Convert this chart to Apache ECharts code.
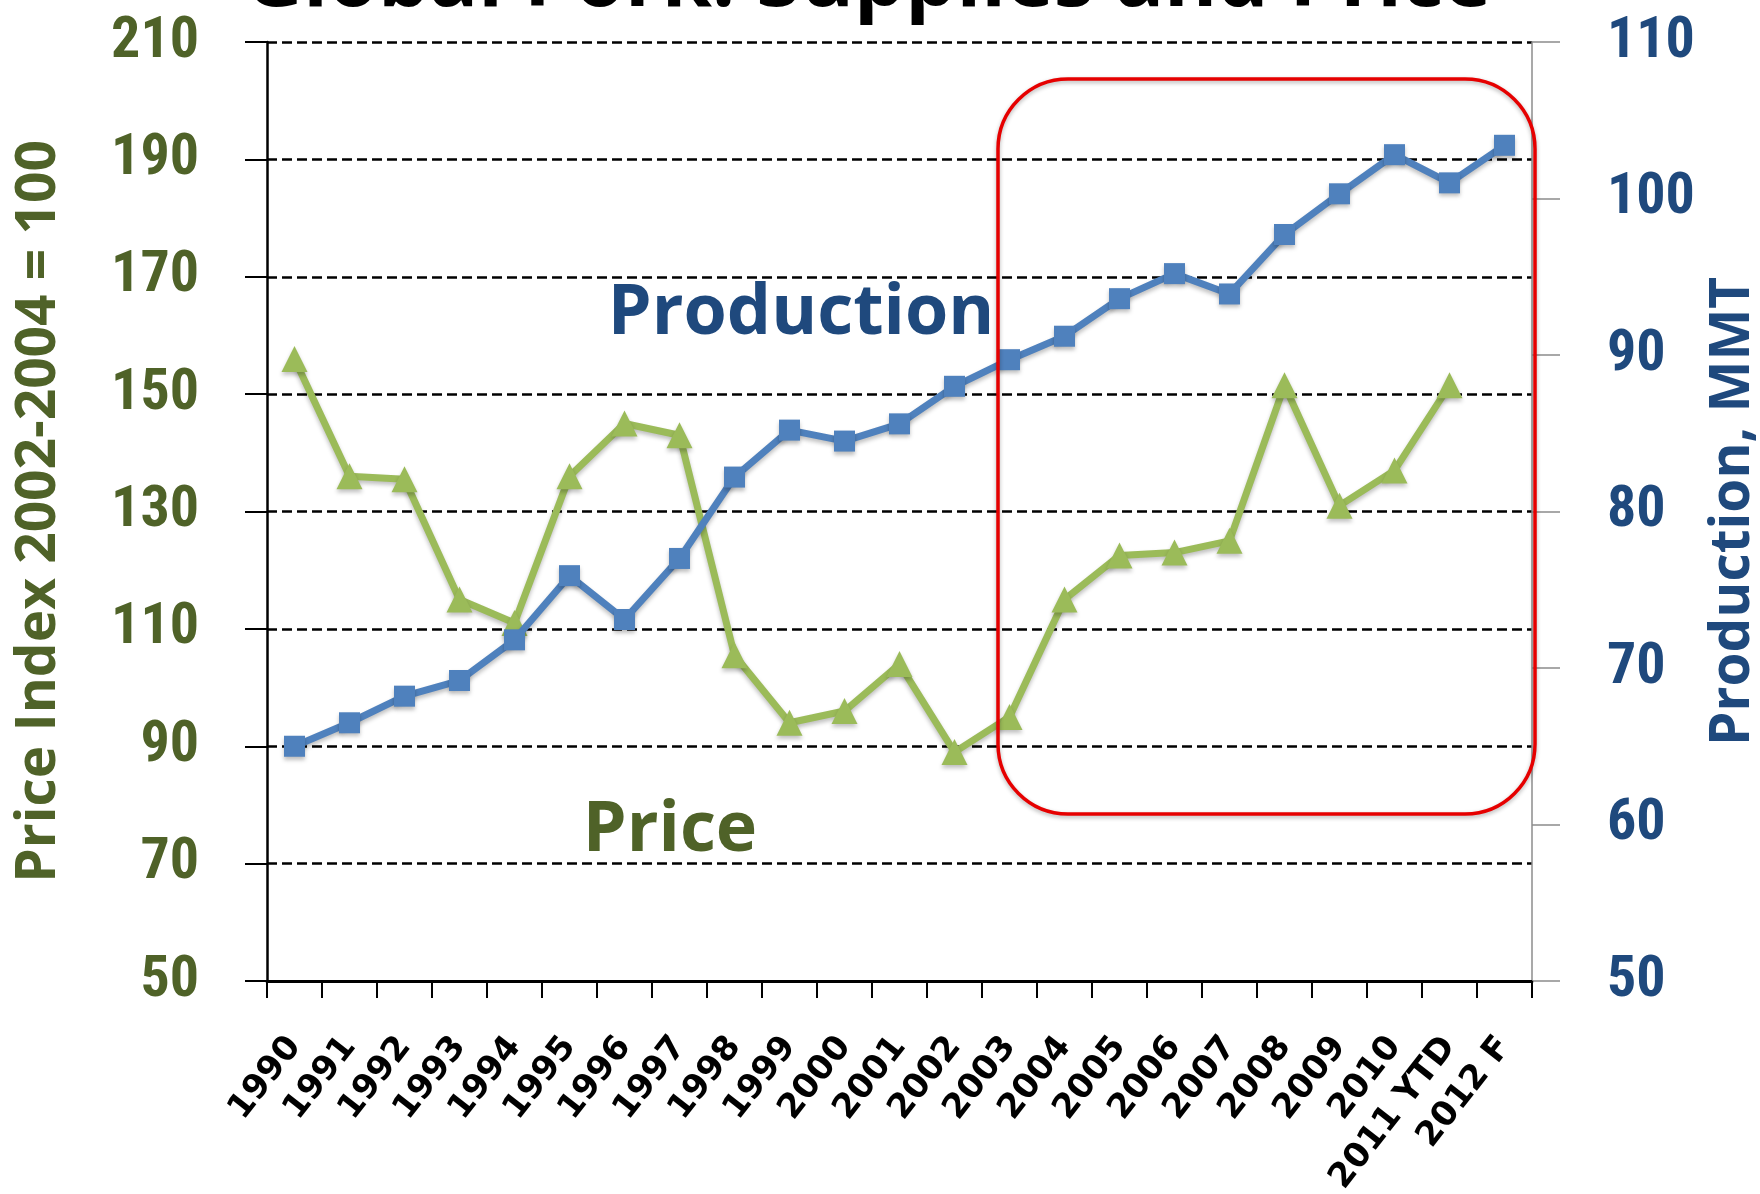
<!DOCTYPE html>
<html>
<head>
<meta charset="utf-8">
<script src="https://cdn.jsdelivr.net/npm/echarts@6/dist/echarts.min.js"></script>
<style>
html,body{margin:0;padding:0;background:#fff;overflow:hidden;}
#chart{width:1760px;height:1194px;}
</style>
</head>
<body>
<div id="chart"></div>
<script>
const categories = ['1990','1991','1992','1993','1994','1995','1996','1997','1998','1999','2000','2001','2002','2003','2004','2005','2006','2007','2008','2009','2010','2011 YTD','2012 F'];
const priceIndex = [156,136,135.5,115,111,136,145,143,105.5,94,96,104,89,95,115,122.5,123,125,151.5,131,137,151.5,null];
const production = [65,66.5,68.2,69.2,71.8,75.9,73.1,77,82.2,85.2,84.5,85.6,88,89.7,91.2,93.6,95.2,93.9,97.7,100.3,102.8,101,103.4];
const priceAxis = {min:50, max:210, step:20};
const prodAxis = {min:50, max:110, step:10};
const titleText = 'Global Pork: Supplies and Price';

const GREEN_DARK = '#4F6228';
const BLUE_DARK = '#1F497D';
const TICK_FONT = '"Roboto Condensed", "DejaVu Sans Condensed", sans-serif';
const chart = echarts.init(document.getElementById('chart'));
chart.setOption({
  backgroundColor:'#fff',
  animation:false,
  grid:{left:267, right:228, top:42, bottom:213, containLabel:false, outerBoundsMode:'none'},
  xAxis:{
    type:'category', data:categories, boundaryGap:true,
    axisLine:{lineStyle:{color:'#000', width:3}},
    axisTick:{show:true, interval:0, length:17, lineStyle:{color:'#000', width:2}},
    axisLabel:{interval:0, rotate:52, margin:60, color:'#000', fontFamily:'DejaVu Sans', fontWeight:'bold', fontSize:34}
  },
  yAxis:[{
    type:'value', min:priceAxis.min, max:priceAxis.max, interval:priceAxis.step,
    name:'Price Index 2002-2004 = 100', nameLocation:'middle', nameGap:200, nameRotate:90,
    nameTextStyle:{color:GREEN_DARK, fontFamily:'Open Sans', fontWeight:'bold', fontSize:55},
    axisLine:{show:true, lineStyle:{color:'#000', width:2.5}},
    axisTick:{show:true, length:22, lineStyle:{color:'#000', width:2}},
    axisLabel:{margin:68, color:GREEN_DARK, fontFamily:TICK_FONT, fontWeight:'bold', fontSize:58},
    splitLine:{show:true, lineStyle:{color:'#000', width:2.5, type:[10,5]}}
  },{
    type:'value', position:'right', min:prodAxis.min, max:prodAxis.max, interval:prodAxis.step,
    name:'Production, MMT', nameLocation:'middle', nameGap:150, nameRotate:90,
    nameTextStyle:{color:BLUE_DARK, fontFamily:'Open Sans', fontWeight:'bold', fontSize:55},
    axisLine:{show:true, lineStyle:{color:'#8c8c8c', width:1.5}},
    axisTick:{show:true, length:28, lineStyle:{color:'#8c8c8c', width:1.5}},
    axisLabel:{margin:75, color:BLUE_DARK, fontFamily:TICK_FONT, fontWeight:'bold', fontSize:58},
    splitLine:{show:false}
  }],
  series:[{
    name:'Price', type:'line', yAxisIndex:0, data:priceIndex,
    symbol:'triangle', symbolSize:26,
    lineStyle:{color:'#9BBB59', width:7, shadowColor:'rgba(0,0,0,0.25)', shadowBlur:4, shadowOffsetY:3},
    itemStyle:{color:'#9BBB59', shadowColor:'rgba(0,0,0,0.25)', shadowBlur:4, shadowOffsetY:3},
    z:3
  },{
    name:'Production', type:'line', yAxisIndex:1, data:production,
    symbol:'rect', symbolSize:21,
    lineStyle:{color:'#4F81BD', width:7, shadowColor:'rgba(0,0,0,0.25)', shadowBlur:4, shadowOffsetY:3},
    itemStyle:{color:'#4F81BD', shadowColor:'rgba(0,0,0,0.25)', shadowBlur:4, shadowOffsetY:3},
    z:4
  }],
  graphic:[
    {type:'text', z:10, style:{x:868, y:-17, text:titleText, font:'bold 81px "Open Sans"', fill:'#000', align:'center', verticalAlign:'middle', textAlign:'center', textVerticalAlign:'middle'}},
    {type:'text', z:10, style:{x:801, y:314, text:'Production', font:'bold 70px "Open Sans"', fill:BLUE_DARK, align:'center', verticalAlign:'middle', textAlign:'center', textVerticalAlign:'middle'}},
    {type:'text', z:10, style:{x:670, y:831, text:'Price', font:'bold 70px "Open Sans"', fill:GREEN_DARK, align:'center', verticalAlign:'middle', textAlign:'center', textVerticalAlign:'middle'}},
    {type:'rect', z:9, shape:{x:998, y:79, width:537, height:735, r:70}, style:{fill:'none', stroke:'#E60000', lineWidth:3.5, shadowColor:'rgba(0,0,0,0.3)', shadowBlur:4, shadowOffsetY:2}}
  ]
});
</script>
</body>
</html>
